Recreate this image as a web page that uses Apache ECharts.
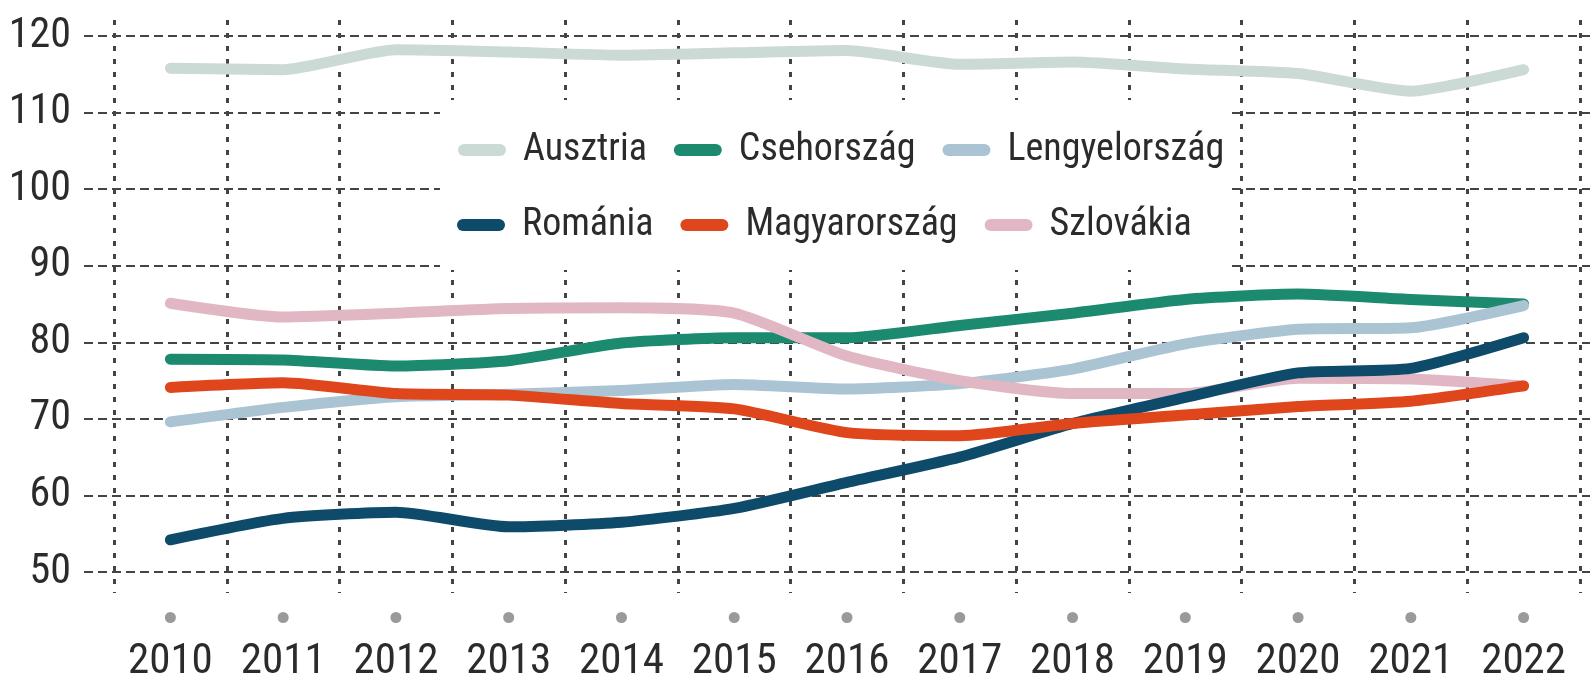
<!DOCTYPE html>
<html lang="hu">
<head>
    <meta charset="UTF-8">
    <title>Chart</title>
    <style>
        html,body{
            margin: 0px;
            padding: 0px;
            background: #fff;
        }
        #chart{
            width: 1593px;
            height: 684px;
        }
    </style>
    <script src="https://cdn.jsdelivr.net/npm/echarts@6/dist/echarts.min.js"></script>
</head>
<body>
<div id="chart"></div>
<script>
    var years = ['2010','2011','2012','2013','2014','2015','2016','2017','2018','2019','2020','2021','2022'];
    var yTicks = {min: 50, max: 120, interval: 10};

    var ausztria      = [115.8, 115.6, 118.2, 117.9, 117.5, 117.8, 118.1, 116.3, 116.6, 115.7, 115.1, 112.8, 115.6];
    var csehorszag    = [77.8, 77.7, 76.9, 77.6, 79.9, 80.6, 80.6, 82.2, 83.8, 85.6, 86.3, 85.6, 85.0];
    var lengyelorszag = [69.6, 71.5, 72.9, 73.2, 73.7, 74.5, 73.9, 74.6, 76.5, 79.8, 81.7, 81.9, 84.8];
    var romania       = [54.2, 57.0, 57.8, 55.9, 56.5, 58.3, 61.7, 65.0, 69.4, 72.8, 76.0, 76.6, 80.6];
    var magyarorszag  = [74.1, 74.7, 73.3, 73.1, 72.0, 71.3, 68.2, 67.8, 69.4, 70.5, 71.6, 72.3, 74.3];
    var szlovakia     = [85.1, 83.3, 83.8, 84.4, 84.5, 83.8, 78.2, 75.0, 73.3, 73.3, 75.3, 75.2, 74.3];

    var font = "'Roboto Condensed', 'DejaVu Sans Condensed', sans-serif";
    var textColor = '#2b2b2b';
    var hLine = {color: '#444', width: 2, type: [9, 5]};
    var vLine = {color: '#444', width: 3, type: [5, 8]};

    // drawing order: later ones end up on top
    var lines = [
        {name: 'Ausztria', color: '#cbdad4', data: ausztria},
        {name: 'Csehország', color: '#1b8a6f', data: csehorszag},
        {name: 'Lengyelország', color: '#abc4d4', data: lengyelorszag},
        {name: 'Szlovákia', color: '#e2b7c4', data: szlovakia},
        {name: 'Románia', color: '#0e4a6a', data: romania},
        {name: 'Magyarország', color: '#e0461c', data: magyarorszag}
    ];

    var capsule = 'path://M6,0 L42,0 A6,6 0 0 1 42,12 L6,12 A6,6 0 0 1 6,0 Z';
    var legendBase = {
        orient: 'horizontal',
        icon: capsule,
        itemWidth: 48,
        itemHeight: 12,
        itemGap: 27,
        padding: 0,
        textStyle: {
            fontFamily: font,
            fontSize: 38,
            lineHeight: 44,
            color: textColor,
            padding: [0, 0, 0, 12]
        }
    };

    var chart = echarts.init(document.getElementById('chart'));
    var option = {
        animation: false,
        backgroundColor: '#fff',
        legend: [
            Object.assign({}, legendBase, {left: 458, top: 128, data: ['Ausztria', 'Csehország', 'Lengyelország']}),
            Object.assign({}, legendBase, {left: 457, top: 203, data: ['Románia', 'Magyarország', 'Szlovákia']})
        ],
        graphic: [{
            type: 'rect',
            left: 440, top: 100, z: 1,
            shape: {width: 790, height: 170},
            style: {fill: '#fff'}
        }],
        grid: [
            // data area
            {left: 114, right: 13, top: 36, bottom: 112, outerBoundsMode: 'none'},
            // horizontal grid lines, a bit wider on both sides
            {left: 84, right: 3, top: 36, bottom: 112, outerBoundsMode: 'none'},
            // vertical grid lines, a bit taller
            {left: 114, right: 13, top: 20, bottom: 91, outerBoundsMode: 'none'}
        ],
        xAxis: [
            {
                type: 'category', gridIndex: 0, data: years, boundaryGap: true,
                axisLine: {show: false}, axisTick: {show: false}, splitLine: {show: false},
                axisLabel: {
                    margin: 40,
                    interval: 0,
                    formatter: function (v) { return '{d|}\n{y|' + v + '}'; },
                    rich: {
                        d: {width: 11, height: 11, borderRadius: 6, backgroundColor: '#9a9a9a'},
                        y: {fontFamily: font, fontSize: 43, lineHeight: 78, color: textColor}
                    }
                }
            },
            {type: 'category', gridIndex: 1, data: years, show: false},
            {
                type: 'category', gridIndex: 2, data: years, boundaryGap: true,
                axisLine: {show: false}, axisTick: {show: false}, axisLabel: {show: false},
                splitLine: {show: true, interval: 0, lineStyle: vLine}
            }
        ],
        yAxis: [
            {
                type: 'value', gridIndex: 0, min: yTicks.min, max: yTicks.max, interval: yTicks.interval,
                axisLine: {show: false}, axisTick: {show: false}, splitLine: {show: false},
                axisLabel: {margin: 43, fontFamily: font, fontSize: 42, color: textColor}
            },
            {
                type: 'value', gridIndex: 1, min: yTicks.min, max: yTicks.max, interval: yTicks.interval,
                axisLine: {show: false}, axisTick: {show: false}, axisLabel: {show: false},
                splitLine: {show: true, lineStyle: hLine}
            },
            {type: 'value', gridIndex: 2, show: false, splitLine: {show: false}}
        ],
        series: lines.map(function (s) {
            return {
                name: s.name,
                type: 'line',
                xAxisIndex: 0,
                yAxisIndex: 0,
                data: s.data,
                smooth: 0.2,
                symbol: 'none',
                z: 3,
                color: s.color,
                lineStyle: {width: 11, color: s.color, cap: 'round', join: 'round'}
            };
        })
    };

    chart.setOption(option);
</script>
</body>
</html>
